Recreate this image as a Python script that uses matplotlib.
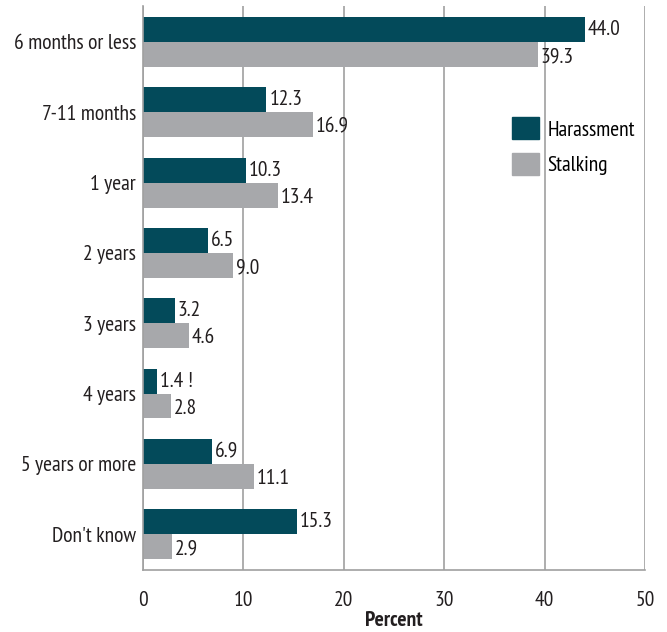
import numpy as np
import matplotlib.pyplot as plt
from matplotlib.patches import Patch

plt.rcParams['font.family'] = ['PT Sans Narrow', 'DejaVu Sans']

categories = ['6 months or less', '7-11 months', '1 year', '2 years',
              '3 years', '4 years', '5 years or more', "Don't know"]
harassment = [44.0, 12.3, 10.3, 6.5, 3.2, 1.4, 6.9, 15.3]
stalking = [39.3, 16.9, 13.4, 9.0, 4.6, 2.8, 11.1, 2.9]
harassment_labels = ['44.0', '12.3', '10.3', '6.5', '3.2', '1.4 !', '6.9', '15.3']
stalking_labels = ['39.3', '16.9', '13.4', '9.0', '4.6', '2.8', '11.1', '2.9']
xticks = [0, 10, 20, 30, 40, 50]

teal = '#034a5a'
gray = '#a7a8ab'
txt = '#231f20'
fs = 15.5

fig = plt.figure(figsize=(6.67, 6.32), dpi=100)
ax = fig.add_axes([0.2144, 0.098, 0.7526, 0.8925])

y = np.arange(len(categories))
h = 0.355
ax.barh(y - h / 2, harassment, height=h, color=teal, zorder=3)
ax.barh(y + h / 2, stalking, height=h, color=gray, zorder=3)

for i in range(len(categories)):
    ax.annotate(harassment_labels[i], (harassment[i], y[i] - h / 2), xytext=(2, 0),
                textcoords='offset points', va='center', ha='left', fontsize=fs, color=txt)
    ax.annotate(stalking_labels[i], (stalking[i], y[i] + h / 2), xytext=(2, -1.5),
                textcoords='offset points', va='center', ha='left', fontsize=fs, color=txt)

ax.set_xlim(0, 50)
ax.set_ylim(len(categories) - 0.49, -0.51)
ax.set_yticks(y)
ax.set_yticklabels(categories, fontsize=fs, color=txt)
ax.set_xticks(xticks)
ax.set_xticklabels([str(t) for t in xticks], fontsize=fs, color=txt)
ax.tick_params(length=0, pad=5)
ax.tick_params(axis='x', pad=15)

ax.grid(axis='x', color='#a0a0a0', linewidth=1.2, zorder=0)
for s in ['top', 'right']:
    ax.spines[s].set_visible(False)
for s in ['left', 'bottom']:
    ax.spines[s].set_color('#a0a0a0')
    ax.spines[s].set_linewidth(1.2)
    ax.spines[s].set_zorder(4)

ax.set_xlabel('Percent', fontsize=fs, fontweight='bold', color=txt, labelpad=1)

handles = [Patch(color=teal, label='Harassment'), Patch(color=gray, label='Stalking')]
fig.legend(handles=handles, loc='upper left', bbox_to_anchor=(0.755, 0.828), frameon=False,
           fontsize=fs, handlelength=1.25, handleheight=1.2, handletextpad=0.4,
           labelspacing=0.6, borderaxespad=0)

fig.savefig('out.png', dpi=100)
